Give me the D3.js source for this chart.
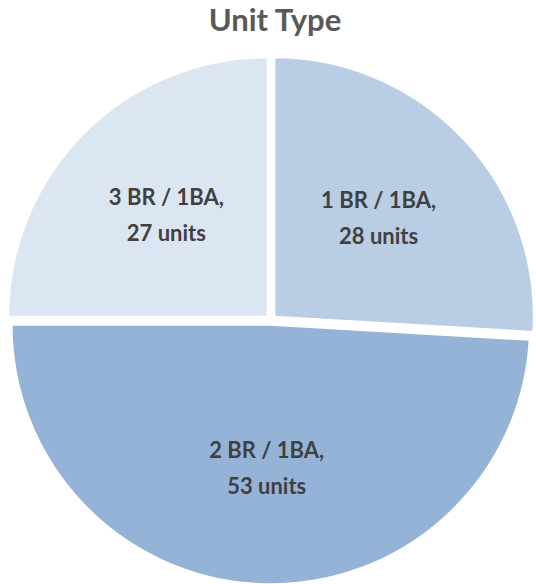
<!DOCTYPE html>
<html>
<head>
<meta charset="utf-8">
<script src="https://cdn.jsdelivr.net/npm/d3@7"></script>
<style>
  body { margin: 0; background: #fff; }
  svg { display: block; }
</style>
</head>
<body>
<div id="chart"></div>
<script>
// data
const categories = ['1 BR / 1BA', '2 BR / 1BA', '3 BR / 1BA'];
const units = [28, 53, 27];
const colors = ['#B9CDE5', '#95B3D7', '#DCE6F2'];

const width = 536, height = 584;
const cx = 271, cy = 320, radius = 259, explode = 5;

const svg = d3.select('#chart').append('svg')
  .attr('width', width)
  .attr('height', height);

// title
svg.append('text')
  .attr('x', 275)
  .attr('y', 31)
  .attr('text-anchor', 'middle')
  .attr('font-family', 'Lato, "Open Sans", sans-serif')
  .attr('font-weight', 'bold')
  .attr('font-size', 31)
  .attr('fill', '#595959')
  .text('Unit Type');

const data = categories.map((c, i) => ({ name: c, value: units[i], color: colors[i] }));

const pie = d3.pie().sort(null).value(d => d.value);
const arc = d3.arc().innerRadius(0).outerRadius(radius);
const labelArc = d3.arc().innerRadius(143).outerRadius(143);

const g = svg.append('g').attr('transform', 'translate(' + cx + ',' + cy + ')');

// exploded slices
const slices = g.selectAll('g.slice')
  .data(pie(data))
  .enter().append('g')
  .attr('class', 'slice')
  .attr('transform', function (d) {
    const a = (d.startAngle + d.endAngle) / 2;
    return 'translate(' + (Math.sin(a) * explode) + ',' + (-Math.cos(a) * explode) + ')';
  });

slices.append('path')
  .attr('d', arc)
  .attr('fill', d => d.data.color)
  .attr('stroke', '#fff')
  .attr('stroke-width', 1.5);

const labels = slices.append('text')
  .attr('transform', d => 'translate(' + labelArc.centroid(d) + ')')
  .attr('text-anchor', 'middle')
  .attr('font-family', 'Lato, "Open Sans", sans-serif')
  .attr('font-weight', 'bold')
  .attr('font-size', 22)
  .attr('fill', '#404040');

labels.append('tspan')
  .attr('x', 0)
  .attr('dy', -10)
  .text(d => d.data.name + ',');

labels.append('tspan')
  .attr('x', 0)
  .attr('dy', 36)
  .text(d => d.data.value + ' units');
</script>
</body>
</html>
